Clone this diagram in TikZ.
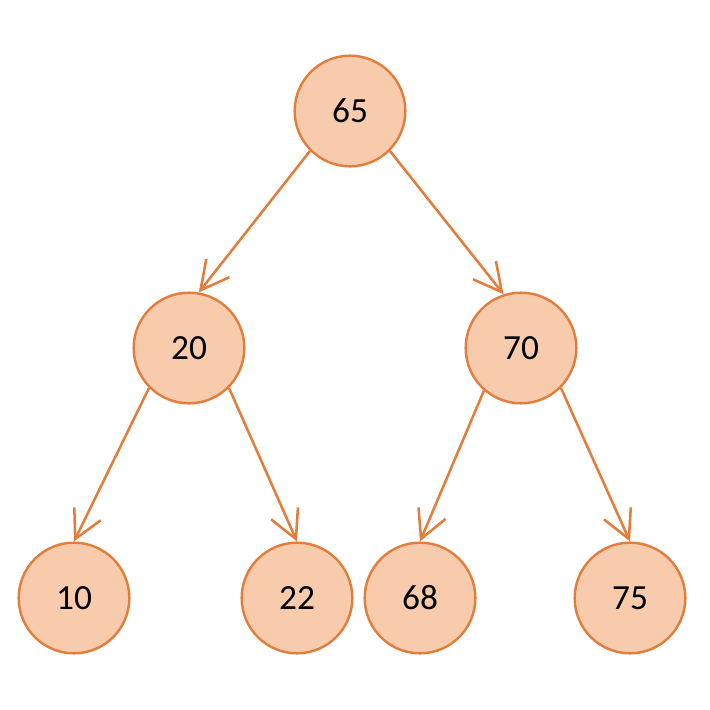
\documentclass[tikz,border=0pt]{standalone}
\usepackage{fontspec}
\setmainfont{Carlito}
\usetikzlibrary{arrows.meta}
\definecolor{nodefill}{HTML}{F8CBAD}
\definecolor{nodeline}{HTML}{E27D3C}
\begin{document}
\begin{tikzpicture}[x=0.75pt,y=-0.75pt,
  treenode/.style={circle,draw=nodeline,fill=nodefill,line width=1.8pt,minimum size=83pt,inner sep=0pt,font=\fontsize{26.5}{30}\selectfont,text=black},
  edge/.style={draw=nodeline,line width=1.9pt,-{Straight Barb[length=21pt,width=22pt,line width=1.9pt]}}]
\useasboundingbox (0,0) rectangle (710,710);
\fill[white] (0,0) rectangle (710,710);
\node[treenode] (n65) at (350,111) {65};
\node[treenode] (n20) at (189,348) {20};
\node[treenode] (n70) at (521,348) {70};
\node[treenode] (n10) at (74,598) {10};
\node[treenode] (n22) at (297,598) {22};
\node[treenode] (n68) at (420,598) {68};
\node[treenode] (n75) at (630,598) {75};
\draw[edge] (n65.225) -- (n20.80);
\draw[edge] (n65.-45) -- (n70.108);
\draw[edge] (n20.225) -- (n10.north);
\draw[edge] (n20.-45) -- (n22.north);
\draw[edge] (n70.229) -- (n68.north);
\draw[edge] (n70.-45) -- (n75.north);
\end{tikzpicture}
\end{document}
